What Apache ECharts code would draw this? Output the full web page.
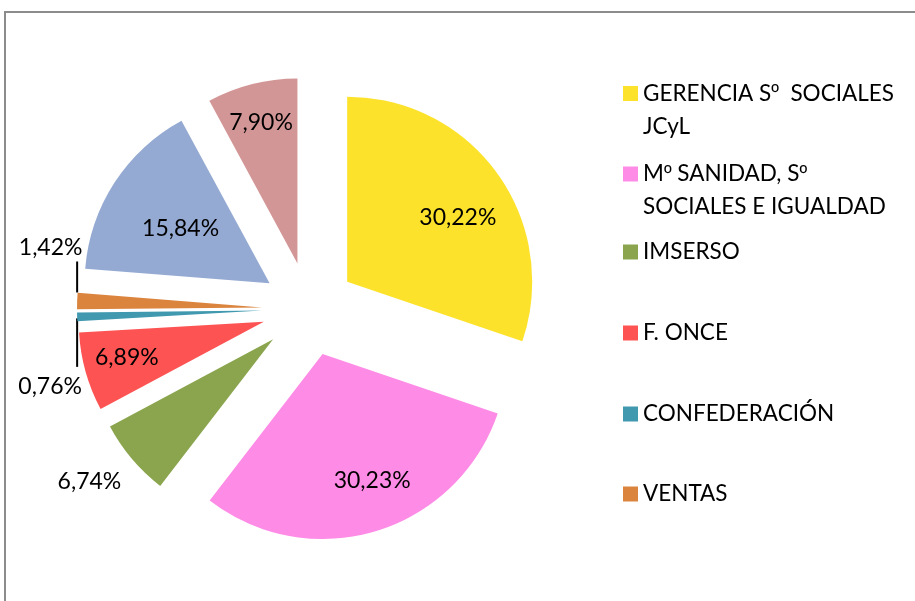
<!DOCTYPE html>
<html><head><meta charset="utf-8">
<script src="https://cdn.jsdelivr.net/npm/echarts@6/dist/echarts.min.js"></script>
<style>
html,body{margin:0;padding:0;background:#fff;overflow:hidden}
#wrap{position:relative;width:915px;height:601px}
#c{position:absolute;left:0;top:0;width:915px;height:601px}
#frame{position:absolute;left:4px;top:11px;width:960px;height:640px;border:2px solid #8c8c8c;pointer-events:none}
</style></head><body>
<div id="wrap"><div id="c"></div><div id="frame"></div></div>
<script>
// ---- data ----
const categories = ['GERENCIA Sº  SOCIALES JCyL', 'Mº SANIDAD, Sº SOCIALES E IGUALDAD', 'IMSERSO', 'F. ONCE', 'CONFEDERACIÓN', 'VENTAS', 'Categoría 7', 'Categoría 8'];
const shares = [30.22, 30.23, 6.74, 6.89, 0.76, 1.42, 15.84, 7.90];
const legendNames = ['GERENCIA Sº  SOCIALES JCyL', 'Mº SANIDAD, Sº SOCIALES E IGUALDAD', 'IMSERSO', 'F. ONCE', 'CONFEDERACIÓN', 'VENTAS'];

// ---- style / layout ----
const colors = ['#FCE22A', '#FE8BE6', '#8BA54E', '#FE5353', '#4199B0', '#DB843D', '#94AAD2', '#D39696'];
const legendWrap = {
  'GERENCIA Sº  SOCIALES JCyL': 'GERENCIA Sº  SOCIALES\nJCyL',
  'Mº SANIDAD, Sº SOCIALES E IGUALDAD': 'Mº SANIDAD, Sº\nSOCIALES E IGUALDAD'
};
const legendMarkerY = [93.5, 174, 252, 333, 414, 494];
const LH = 33;
const LFS = 22.5;
const outsideIdx = [2, 4, 5];
// extra offset of inside labels from the library's default position
const insideShift = {0: [33, -8], 1: [22, 35], 3: [-45, 10], 6: [-9, -3], 7: [-13, -48]};
// outside labels: offsets from the slice edge point the library computes
const outsideSpec = {
  2: {text: [-42.5, 22.5]},
  4: {text: [-27, 70], line: [1.5, 50]},
  5: {text: [-26.5, -53.5], line: [-8.5, -39.5]}
};

const chart = echarts.init(document.getElementById('c'), null, {renderer: 'canvas'});
const fmtPct = v => v.toFixed(2).replace('.', ',') + '%';
// wrap text segments in rich tokens; the ordinal sign gets a font with an underlined glyph
const richify = s => s.split('\n').map(line =>
  line.split('º').map(part => part ? '{t|' + part + '}' : '').join('{o|º}')
).join('\n');

const legends = legendNames.map((n, i) => {
  const wrapped = legendWrap[n];
  const lines = wrapped ? 3 : 1;
  return {
    data: [n], left: 623, top: legendMarkerY[i] - lines * LH / 2,
    orient: 'vertical', padding: 0, itemGap: 0, itemWidth: 15, itemHeight: 15,
    icon: 'rect', selectedMode: false,
    formatter: name => legendWrap[name] ? '{t| }\n' + richify(legendWrap[name]) : richify(name),
    textStyle: {
      fontFamily: 'Lato', fontSize: LFS, color: '#000', lineHeight: LH,
      rich: {
        t: {fontFamily: 'Lato', fontSize: LFS, color: '#000', lineHeight: LH},
        o: {fontFamily: 'Liberation Sans', fontSize: LFS - 1.5, color: '#000', lineHeight: LH}
      }
    }
  };
});

chart.setOption({
  animation: false,
  color: colors,
  legend: legends,
  series: [{
    type: 'pie',
    center: [309, 309],
    radius: 185,
    startAngle: 90,
    clockwise: true,
    selectedMode: 'multiple',
    selectedOffset: 47,
    avoidLabelOverlap: false,
    emphasis: {disabled: true},
    label: {
      formatter: p => fmtPct(p.value),
      fontFamily: 'Lato', fontSize: 23, color: '#000'
    },
    labelLine: {show: false},
    labelLayout: function (p) {
      const i = p.dataIndex;
      const r = p.labelRect;
      const cx = r.x + r.width / 2, cy = r.y + r.height / 2;
      const s = insideShift[i];
      if (s) return {dx: s[0], dy: s[1]};
      const o = outsideSpec[i];
      if (o && p.labelLinePoints && p.labelLinePoints.length) {
        const P = p.labelLinePoints[0];
        const res = {dx: P[0] + o.text[0] - cx, dy: P[1] + o.text[1] - cy};
        if (o.line) res.labelLinePoints = [[P[0], P[1] + o.line[0]], [P[0], P[1] + o.line[1]]];
        return res;
      }
      return {};
    },
    data: categories.map((n, i) => {
      const out = outsideIdx.indexOf(i) >= 0;
      return {
        name: n, value: shares[i], selected: true,
        itemStyle: {color: colors[i]},
        label: {position: out ? 'outside' : 'inside'},
        labelLine: {
          show: out,
          length: 10, length2: 10,
          lineStyle: {color: i === 2 ? 'rgba(0,0,0,0)' : '#000', width: 2}
        }
      };
    })
  }]
});
</script>
</body></html>
